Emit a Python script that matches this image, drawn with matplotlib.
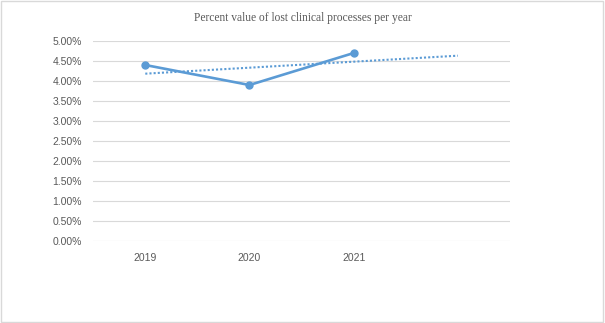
import numpy as np
import matplotlib.pyplot as plt
from matplotlib.patches import Rectangle

# data
years = ["2019", "2020", "2021"]
lost_pct = [4.40, 3.90, 4.70]
y_ticks = [0.0, 0.5, 1.0, 1.5, 2.0, 2.5, 3.0, 3.5, 4.0, 4.5, 5.0]

blue = "#5B9BD5"
grey_txt = "#595959"

fig = plt.figure(figsize=(6.05, 3.23), dpi=100)
ax = fig.add_axes([0.154, 0.254, 0.689, 0.619])

x = np.arange(len(years))
ax.plot(x, lost_pct, color=blue, linewidth=1.9, marker="o", markersize=5,
        solid_capstyle="round", zorder=3)

# linear trendline, forecast one period forward
slope, intercept = np.polyfit(x, lost_pct, 1)
xt = np.array([0, len(years)])
ax.plot(xt, slope * xt + intercept, color=blue, linewidth=1.5,
        linestyle=(0, (1, 1)), zorder=2)

ax.set_xlim(-0.5, 3.5)
ax.set_ylim(0, 5)
ax.set_xticks(x)
ax.set_xticklabels(years)
ax.set_yticks(y_ticks)
ax.set_yticklabels([f"{v:.2f}%" for v in y_ticks])
ax.tick_params(length=0, labelsize=7.5, colors=grey_txt, pad=8)
ax.tick_params(axis="x", pad=9)
for lbl in ax.get_xticklabels() + ax.get_yticklabels():
    lbl.set_family("Liberation Sans")

ax.grid(axis="y", color="#D9D9D9", linewidth=0.8)
ax.set_axisbelow(True)
for s in ax.spines.values():
    s.set_visible(False)

fig.text(0.5, 0.943, "Percent value of lost clinical processes per year",
         ha="center", va="center", fontsize=8.3, family="Liberation Serif",
         color=grey_txt)

fig.patches.append(Rectangle((0.002, 0.003), 0.995, 0.993, transform=fig.transFigure,
                             fill=False, edgecolor="#D9D9D9", linewidth=1))

fig.savefig("out.png", dpi=100)
